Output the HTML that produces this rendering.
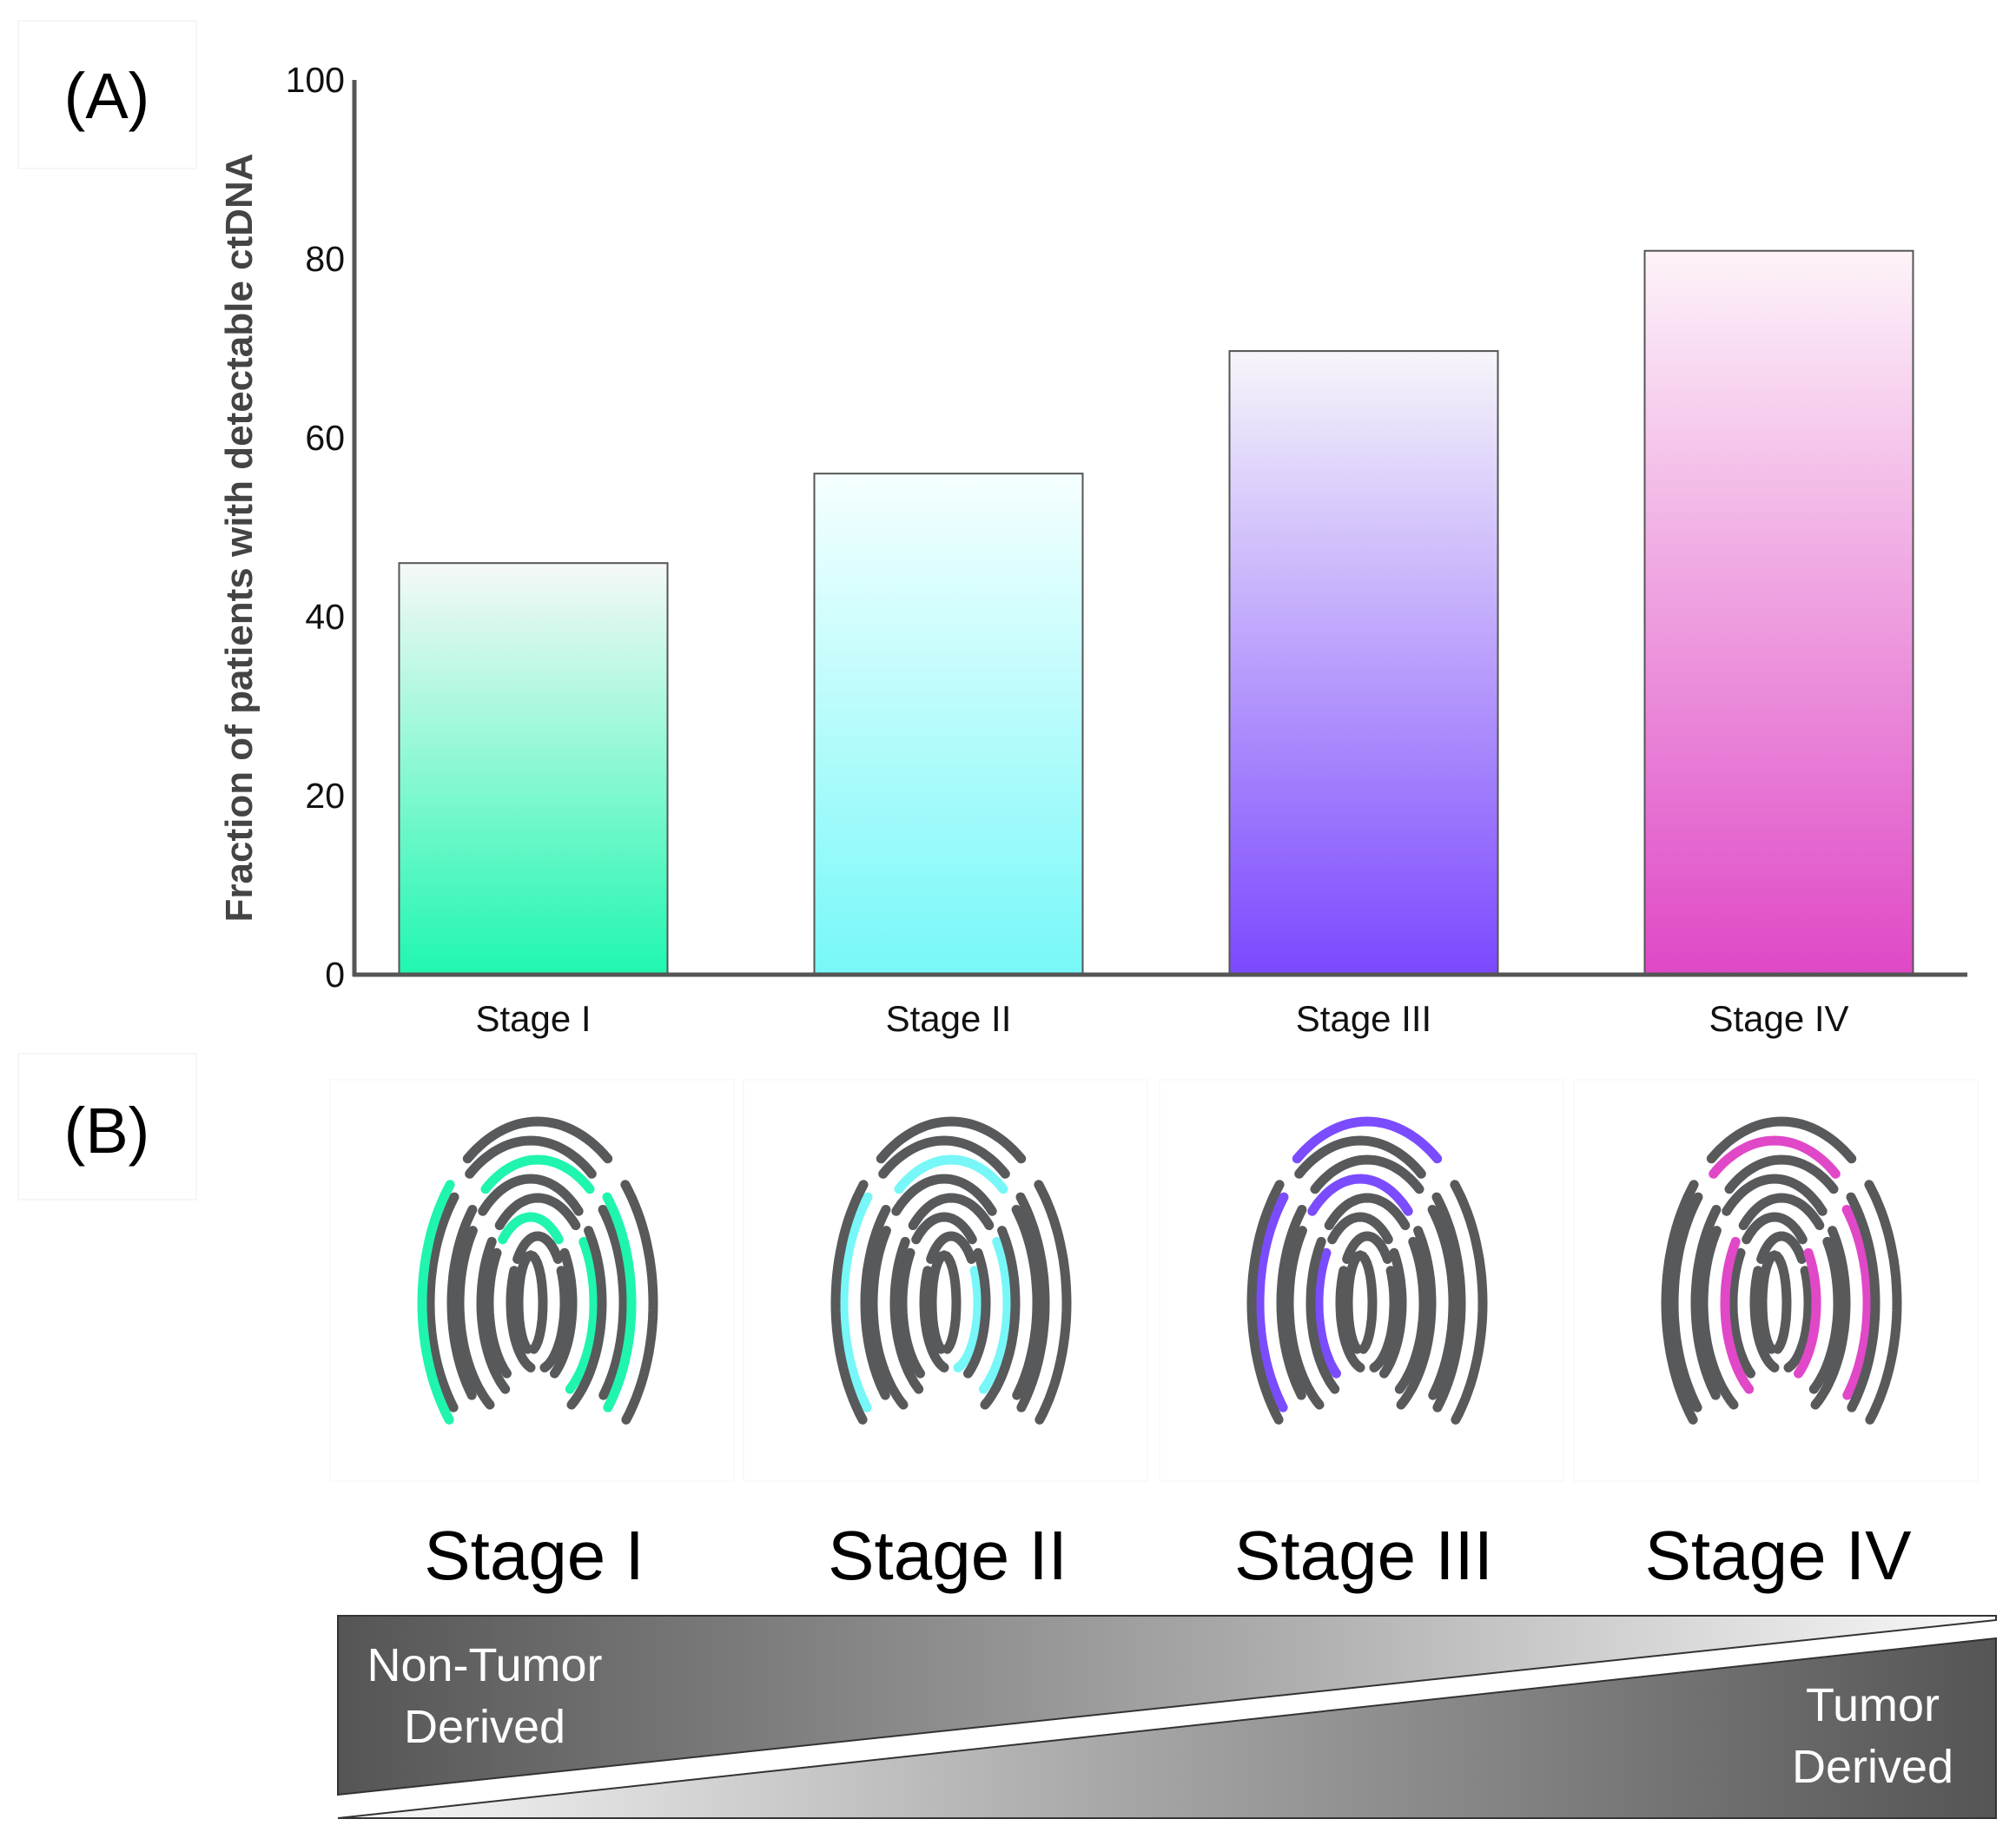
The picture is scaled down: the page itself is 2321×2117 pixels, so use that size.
<!DOCTYPE html>
<html><head><meta charset="utf-8"><style>
html,body{margin:0;padding:0;background:#fff;}
svg{display:block;font-family:"Liberation Sans",sans-serif;}
</style></head><body>
<svg id="chart" width="2321" height="2117" viewBox="0 0 2321 2117" xmlns="http://www.w3.org/2000/svg">
<defs>
<linearGradient id="g0" x1="0" y1="1" x2="0" y2="0"><stop offset="0" stop-color="#1ff7b0"/><stop offset="1" stop-color="#f6f8f7"/></linearGradient>
<linearGradient id="g1" x1="0" y1="1" x2="0" y2="0"><stop offset="0" stop-color="#77f8f8"/><stop offset="1" stop-color="#f6ffff"/></linearGradient>
<linearGradient id="g2" x1="0" y1="1" x2="0" y2="0"><stop offset="0" stop-color="#7b48fe"/><stop offset="1" stop-color="#f7f5fa"/></linearGradient>
<linearGradient id="g3" x1="0" y1="1" x2="0" y2="0"><stop offset="0" stop-color="#df48c6"/><stop offset="1" stop-color="#fdf4f9"/></linearGradient>
<linearGradient id="wedgeTop" x1="0" y1="0" x2="1" y2="0"><stop offset="0" stop-color="#555"/><stop offset="0.55" stop-color="#aaa"/><stop offset="1" stop-color="#fafafa"/></linearGradient>
<linearGradient id="wedgeBot" x1="0" y1="0" x2="1" y2="0"><stop offset="0" stop-color="#fafafa"/><stop offset="0.45" stop-color="#aaa"/><stop offset="1" stop-color="#555"/></linearGradient>
</defs>
<rect x="21" y="24" width="205" height="170" fill="#fff" stroke="#eee" stroke-width="1"/>
<text x="123" y="136" font-size="74" text-anchor="middle" fill="#000">(A)</text>
<rect x="21" y="1213" width="205" height="168" fill="#fff" stroke="#eee" stroke-width="1"/>
<text x="123" y="1327" font-size="74" text-anchor="middle" fill="#000">(B)</text>
<g id="plot"></g>
<g id="prints"></g>
<g id="bottom"></g>
</svg>
<script>
const categories = ["Stage I","Stage II","Stage III","Stage IV"];
const values = [46, 56, 69.7, 80.9];
const yTicks = [0, 20, 40, 60, 80, 100];
const gradients = ["g0","g1","g2","g3"];
const accent = ["#1ff5ae","#77f7f7","#7b4cfe","#e048c8"];

const NS = "http://www.w3.org/2000/svg";
function mk(tag, attrs, parent){const e=document.createElementNS(NS,tag);for(const k in attrs)e.setAttribute(k,attrs[k]);parent.appendChild(e);return e;}
const x0=408, x1=2265, yBase=1122, yTop=92;
const yScale = v => yBase - (v/100)*(yBase-yTop);
const xCenter = i => 614 + 478*i;
const barW = 309;
const plot = document.getElementById('plot');

yTicks.forEach(t=>{
  const tx = mk('text',{x:397,y:yScale(t)+14,'font-size':41,'text-anchor':'end',fill:'#111'},plot);
  tx.textContent=t;
  
  
});
const yt = mk('text',{x:0,y:0,'font-size':44,'font-weight':'bold','text-anchor':'middle',fill:'#444',transform:'translate(290,619) rotate(-90)'},plot);
yt.textContent='Fraction of patients with detectable ctDNA';



values.forEach((v,i)=>{
  const r = mk('rect',{x:xCenter(i)-barW/2,y:yScale(v),width:barW,height:yBase-yScale(v),fill:'url(#'+gradients[i]+')',stroke:'#555','stroke-width':2},plot);
  
  
  const l = mk('text',{x:xCenter(i),y:1187,'font-size':42,'text-anchor':'middle',fill:'#111'},plot);
  l.textContent=categories[i];
  
  
});
const ya = mk('line',{x1:x0,y1:yTop,x2:x0,y2:yBase+2,stroke:'#555','stroke-width':5},plot);


const xa = mk('line',{x1:x0-2,y1:yBase,x2:x1,y2:yBase,stroke:'#555','stroke-width':5},plot);



// fingerprints
const prints = document.getElementById('prints');
const highlight = [
  [[7,0],[5,1],[6,2],[2,1],[3,2]],
  [[6,0],[3,2],[5,1],[1,2]],
  [[7,1],[6,0],[2,0],[4,1]],
  [[6,1],[3,0],[5,2],[2,2]]
];
const pcx = [615,1091,1570,2047];
function arcPath(cx,cy,rx,ry,a0,a1){
  let d='';const n=30;
  for(let k=0;k<=n;k++){const t=(a0+(a1-a0)*k/n)*Math.PI/180;
    const px=cx+rx*Math.sin(t), py=cy-ry*Math.cos(t);
    d+=(k?'L':'M')+px.toFixed(1)+' '+py.toFixed(1);}
  return d;
}
pcx.forEach((cx,p)=>{
  const box = mk('rect',{x:cx-235,y:1243,width:465,height:462,fill:'#fff',stroke:'#f4f4f4','stroke-width':1},prints);
  
  
  const g = mk('g',{},prints);
  
  
  const cy=1500;
  for(let i=0;i<8;i++){
    const rx=14+17*i, ry=55+22*i;
    const span = i<2?165:(i<5?145:130);
    const segs = i===0?[[-span,span]]:[[-span,-span/3-6],[-span/3+6,span/3-6],[span/3+6,span]];
    segs.forEach((s,j)=>{
      const hl = highlight[p].some(h=>h[0]===i&&h[1]===j);
      const pa = mk('path',{d:arcPath(cx+(i%2?4:-4),cy,rx,ry,s[0],s[1]),fill:'none',stroke:hl?accent[p]:'#58595b','stroke-width':11,'stroke-linecap':'round'},g);
      
      
    });
  }
  const st = mk('text',{x:cx,y:1818,'font-size':80,'text-anchor':'middle',fill:'#000'},prints);
  st.textContent=categories[p];
  
  
});

// bottom wedge
const bottom = document.getElementById('bottom');
const w1 = mk('polygon',{points:'389,1860 2298,1860 2298,1865 389,2066',fill:'url(#wedgeTop)',stroke:'#333','stroke-width':2},bottom);


const w2 = mk('polygon',{points:'389,2093 2298,1886 2298,2093',fill:'url(#wedgeBot)',stroke:'#333','stroke-width':2},bottom);


[['Non-Tumor',558,1935],['Derived',558,2006],['Tumor',2156,1981],['Derived',2156,2052]].forEach(a=>{
  const t = mk('text',{x:a[1],y:a[2],'font-size':54,'text-anchor':'middle',fill:'#fff'},bottom);
  t.textContent=a[0];
  
  
});
</script>
</body></html>
